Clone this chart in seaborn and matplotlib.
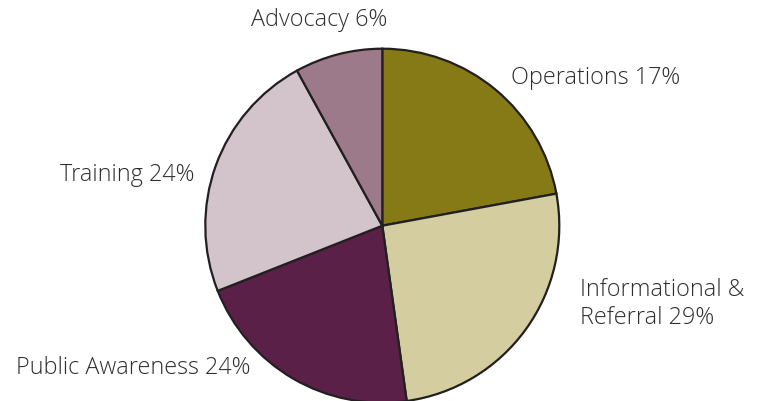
import numpy as np
import pandas as pd
import matplotlib
matplotlib.use("Agg")
import matplotlib.pyplot as plt
import seaborn as sns

# slice sizes as drawn (degrees share), and the printed labels
categories = ["Operations", "Informational & Referral", "Public Awareness", "Training", "Advocacy"]
sizes = [22.1, 25.7, 21.2, 23.0, 8.0]
labels = ["Operations 17%", "Informational &\nReferral 29%", "Public Awareness 24%", "Training 24%", "Advocacy 6%"]
colors = ["#857a16", "#d3cd9f", "#5a2048", "#d3c4cc", "#9c7a8a"]

sns.set_theme(style="white")
plt.rcParams['font.family'] = ['Open Sans', 'DejaVu Sans']

W, H = 761, 401
fig = plt.figure(figsize=(W / 100, H / 100), dpi=100)
ax = fig.add_axes([0, 0, 1, 1])

ax.pie(sizes, colors=colors, startangle=90, counterclock=False,
       center=(382.3, H - 225.7), radius=177,
       wedgeprops=dict(edgecolor="#231f20", linewidth=1.6))
ax.set_xlim(0, W)
ax.set_ylim(0, H)
ax.set_aspect("equal")
ax.axis("off")

txt = dict(fontsize=16.8, color="#2e2e2e", fontweight="light")
ax.text(511, H - 78, labels[0], ha="left", va="center", **txt)
ax.text(580, H - 304, labels[1], ha="left", va="center", linespacing=1.2, **txt)
ax.text(251, H - 368, labels[2], ha="right", va="center", **txt)
ax.text(195, H - 175, labels[3], ha="right", va="center", **txt)
ax.text(319, H - 20, labels[4], ha="center", va="center", **txt)

fig.savefig("out.png", dpi=100)
